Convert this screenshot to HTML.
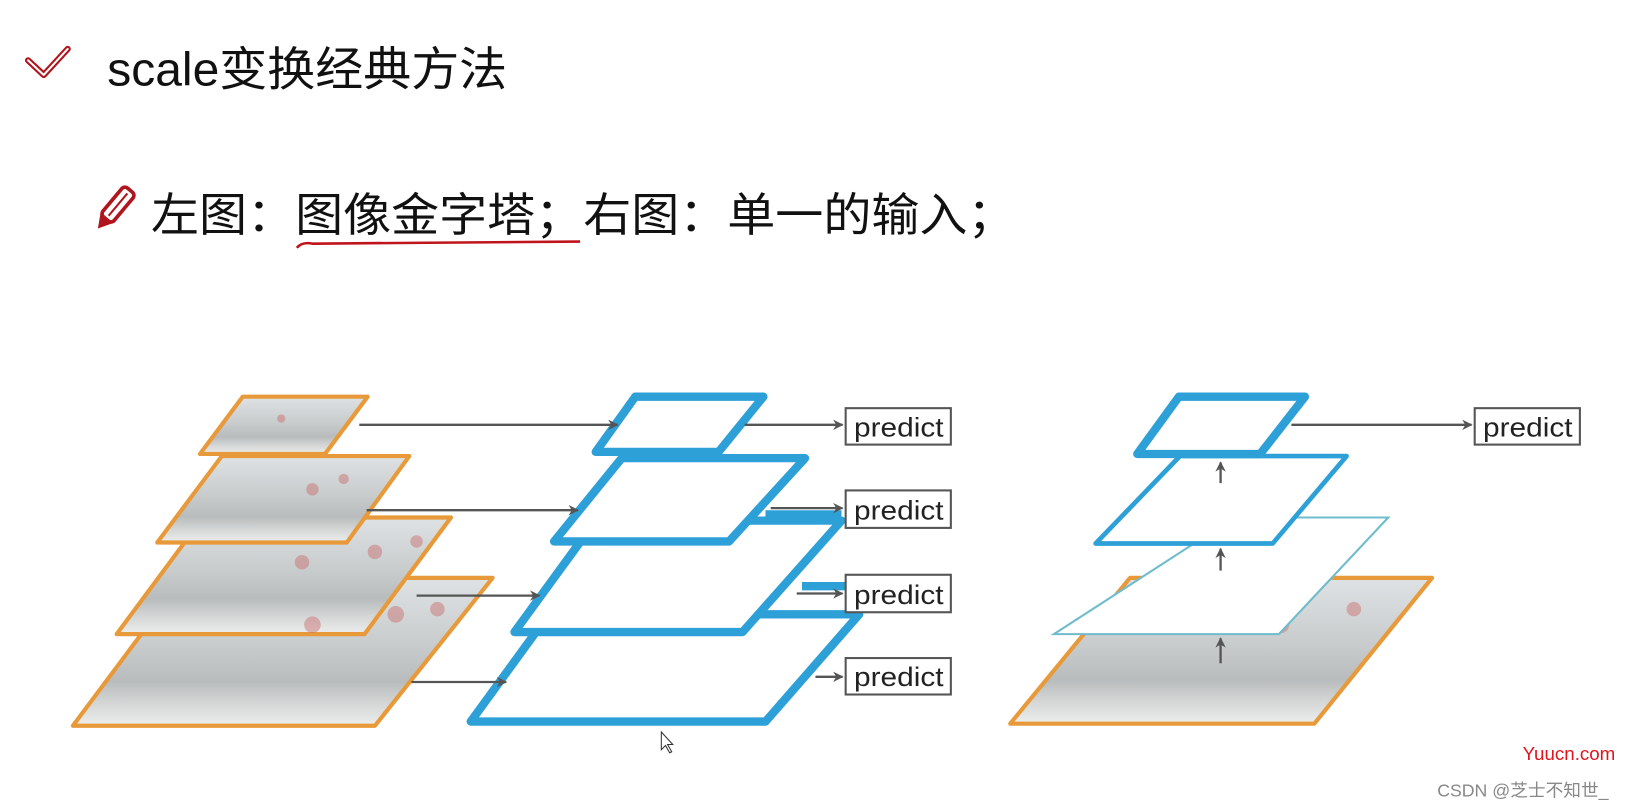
<!DOCTYPE html>
<html><head><meta charset="utf-8"><style>
html,body{margin:0;padding:0;background:#fff;width:1633px;height:808px;overflow:hidden}
svg{display:block}
text{font-family:"Liberation Sans","Noto Sans CJK SC",sans-serif}
</style></head><body>
<svg width="1633" height="808" viewBox="0 0 1568 776" preserveAspectRatio="none" xmlns="http://www.w3.org/2000/svg">
<defs>
<marker id="ah" markerWidth="10" markerHeight="10" refX="9" refY="5" orient="auto" markerUnits="userSpaceOnUse"><path d="M0,0 L10,5 L0,10 L3,5 z" fill="#555"/></marker>
<linearGradient id="img" x1="0" y1="0" x2="0" y2="1">
<stop offset="0" stop-color="#dfe2e4"/><stop offset="0.45" stop-color="#c9cccd"/><stop offset="0.7" stop-color="#b9bcbc"/><stop offset="0.85" stop-color="#d5d7d7"/><stop offset="1" stop-color="#eceeee"/></linearGradient>
</defs>
<path d="M27,58 L42,72 L65,47" fill="none" stroke="#b0141c" stroke-width="6" stroke-linejoin="round" stroke-linecap="round"/>
<path d="M27,58 L42,72 L65,47" fill="none" stroke="#fff" stroke-width="2" stroke-linejoin="round" stroke-linecap="round"/>
<text x="103" y="82" font-size="45" fill="#111" textLength="384" lengthAdjust="spacingAndGlyphs">scale变换经典方法</text>
<g transform="translate(112,198) rotate(-50)">
<rect x="-16" y="-7" width="36" height="14" rx="4" fill="#fff" stroke="#b0141c" stroke-width="3.5"/>
<line x1="-12" y1="0" x2="16" y2="0" stroke="#b0141c" stroke-width="2"/>
<path d="M-16,-7 L-28,0 L-16,7 z" fill="#b0141c"/>
</g>
<text x="145" y="222" font-size="44" fill="#111" textLength="830" lengthAdjust="spacingAndGlyphs">左图：图像金字塔；右图：单一的输入；</text>
<path d="M285,238 Q290,232 300,234 L557,232" fill="none" stroke="#c0141c" stroke-width="2.5"/>
<g stroke="#e89a3a" stroke-width="4" fill="url(#img)" stroke-linejoin="round">
<polygon points="176,555 473,555 360,697 70,697"/>
<polygon points="195,497 433,497 350,609 112,609"/>
<polygon points="213,438 393,438 333,521 151,521"/>
<polygon points="233,381 353,381 312,436 192,436"/>
</g>
<g fill="#c96a6a" opacity="0.45">
<circle cx="270" cy="402" r="4"/><circle cx="300" cy="470" r="6"/><circle cx="330" cy="460" r="5"/>
<circle cx="290" cy="540" r="7"/><circle cx="360" cy="530" r="7"/><circle cx="400" cy="520" r="6"/>
<circle cx="300" cy="600" r="8"/><circle cx="380" cy="590" r="8"/><circle cx="420" cy="585" r="7"/>
</g>
<g stroke="#2ea0d8" stroke-width="8" fill="#fff" stroke-linejoin="round">
<polygon points="527,590 825,590 735,693 452,693"/>
<polygon points="572,500 808,500 713,607 494,607"/>
<polygon points="597,440 773,440 700,520 532,520"/>
<polygon points="610,381 733,381 690,434 572,434"/>
</g>
<path d="M735,494 L808,494" stroke="#2ea0d8" stroke-width="8"/>
<path d="M770,563 L812,563" stroke="#2ea0d8" stroke-width="8"/>
<g stroke="#555" stroke-width="2.2" marker-end="url(#ah)">
<line x1="345" y1="408" x2="593" y2="408"/>
<line x1="352" y1="490" x2="555" y2="490"/>
<line x1="400" y1="572" x2="518" y2="572"/>
<line x1="395" y1="655" x2="486" y2="655"/>
<line x1="715" y1="408" x2="809" y2="408"/>
<line x1="740" y1="488" x2="809" y2="488"/>
<line x1="765" y1="570" x2="809" y2="570"/>
<line x1="783" y1="650" x2="809" y2="650"/>
</g>
<g stroke="#555" stroke-width="2" fill="#fff">
<rect x="812" y="392" width="101" height="35"/>
<rect x="812" y="471" width="101" height="36"/>
<rect x="812" y="552" width="101" height="36"/>
<rect x="812" y="632" width="101" height="35"/>
<rect x="1416" y="392" width="101" height="35"/>
</g>
<g font-size="26" fill="#222">
<text x="820" y="419" textLength="86" lengthAdjust="spacingAndGlyphs">predict</text>
<text x="820" y="499" textLength="86" lengthAdjust="spacingAndGlyphs">predict</text>
<text x="820" y="580" textLength="86" lengthAdjust="spacingAndGlyphs">predict</text>
<text x="820" y="659" textLength="86" lengthAdjust="spacingAndGlyphs">predict</text>
<text x="1424" y="419" textLength="86" lengthAdjust="spacingAndGlyphs">predict</text>
</g>
<polygon points="1085,555 1375,555 1262,695 970,695" fill="url(#img)" stroke="#e89a3a" stroke-width="4" stroke-linejoin="round"/>
<circle cx="1230" cy="600" r="8" fill="#c96a6a" opacity="0.45"/><circle cx="1300" cy="585" r="7" fill="#c96a6a" opacity="0.45"/>
<polygon points="1185,497 1333,497 1228,609 1012,609" fill="#fff" stroke="#6fbccc" stroke-width="2"/>
<polygon points="1133,438 1293,438 1222,522 1052,522" fill="#fff" stroke="#2ea0d8" stroke-width="4.5" stroke-linejoin="round"/>
<polygon points="1132,381 1253,381 1210,436 1092,436" fill="#fff" stroke="#2ea0d8" stroke-width="8" stroke-linejoin="round"/>
<g stroke="#555" stroke-width="2.2" marker-end="url(#ah)">
<line x1="1172" y1="464" x2="1172" y2="444"/>
<line x1="1172" y1="548" x2="1172" y2="527"/>
<line x1="1172" y1="637" x2="1172" y2="613"/>
<line x1="1240" y1="408" x2="1413" y2="408"/>
</g>
<path d="M635,703 L635,720 L639,716 L643,723 L645,722 L641,715 L646,715 z" fill="#fff" stroke="#333" stroke-width="1"/>
<text x="1462" y="730" font-size="18" fill="#e0141c" font-family="Liberation Serif,serif">Yuucn.com</text>
<text x="1380" y="765" font-size="17" fill="#888">CSDN @芝士不知世_</text>
</svg>
</body></html>
